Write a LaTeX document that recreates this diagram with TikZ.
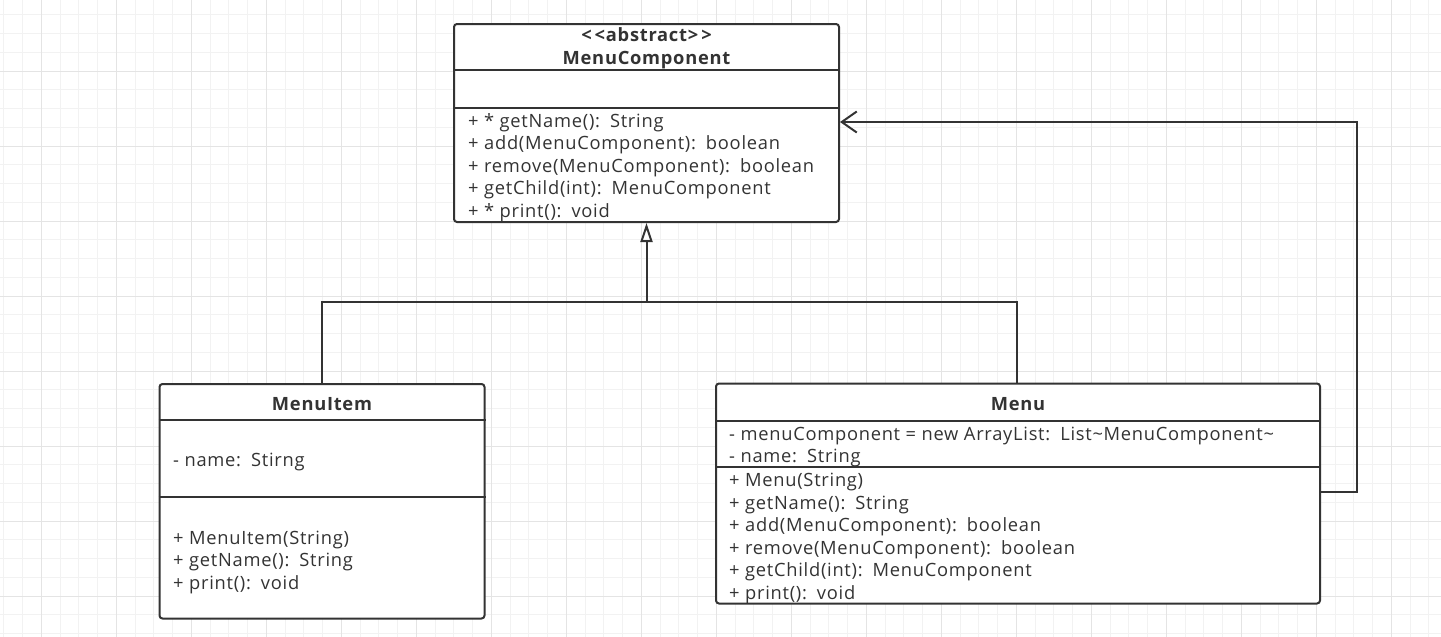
\documentclass[tikz,border=0pt]{standalone}
\usepackage{fontspec}
\setmainfont{Open Sans}[LetterSpace=4]
\usetikzlibrary{arrows.meta}
\definecolor{umlline}{HTML}{333333}
\definecolor{gridminor}{RGB}{242,242,242}
\definecolor{gridmajor}{RGB}{228,228,228}
\tikzset{
  classbox/.style={draw=umlline, line width=2pt, fill=white, rounded corners=3pt, inner sep=0pt},
  divider/.style={draw=umlline, line width=2pt},
  link/.style={draw=umlline, line width=2pt},
  member/.style={anchor=base west, inner sep=0pt, text=umlline, font=\fontsize{18.3}{20}\selectfont},
  classtitle/.style={anchor=base, inner sep=0pt, text=umlline, font=\fontsize{18.3}{20}\selectfont\bfseries},
}
\newcommand{\tcol}{:\hspace{10pt}}
\begin{document}
\begin{tikzpicture}[x=1pt,y=-1pt]
  \useasboundingbox (0,0) rectangle (1441,637);
  \fill[white] (0,0) rectangle (1441,637);
  % grid
  \foreach \i in {0,...,76}
    \draw[gridminor, line width=1pt] ({3.8+18.75*\i},0) -- ++(0,637);
  \foreach \j in {0,...,33}
    \draw[gridminor, line width=1pt] (0,{14.75+18.75*\j}) -- ++(1441,0);
  \foreach \i in {0,...,19}
    \draw[gridmajor, line width=1pt] ({41.3+75*\i},0) -- ++(0,637);
  \foreach \j in {0,...,8}
    \draw[gridmajor, line width=1pt] (0,{71+75*\j}) -- ++(1441,0);

  % MenuComponent
  \node[classbox, minimum width=385pt, minimum height=198pt] (comp) at (646.5,123) {};
  \draw[divider] (comp.west |- 0,70) -- (comp.east |- 0,70);
  \draw[divider] (comp.west |- 0,108) -- (comp.east |- 0,108);
  \node[classtitle] (compstereo) at (646.5,41.7) {{<}\,{<}abstract{>}\,{>}};
  \node[classtitle] (compname) at (646.5,64.3) {MenuComponent};
  \foreach \t [count=\i] in {{+ * getName()\tcol String}, {+ add(MenuComponent)\tcol boolean},
      {+ remove(MenuComponent)\tcol boolean}, {+ getChild(int)\tcol MenuComponent}, {+ * print()\tcol void}}
    \node[member] (compop\i) at (468,{127+22.5*(\i-1)}) {\t};

  % MenuItem
  \node[classbox, minimum width=325pt, minimum height=234.5pt] (item) at (322,501.25) {};
  \draw[divider] (item.west |- 0,420) -- (item.east |- 0,420);
  \draw[divider] (item.west |- 0,496.7) -- (item.east |- 0,496.7);
  \node[classtitle] (itemname) at (322,410) {MenuItem};
  \node[member] (itemattr) at (173,466) {- name\tcol Stirng};
  \foreach \t [count=\i] in {{+ MenuItem(String)}, {+ getName()\tcol String}, {+ print()\tcol void}}
    \node[member] (itemop\i) at (173,{544+22.5*(\i-1)}) {\t};

  % Menu
  \node[classbox, minimum width=604pt, minimum height=220pt] (menu) at (1018,493.5) {};
  \draw[divider] (menu.west |- 0,420.5) -- (menu.east |- 0,420.5);
  \draw[divider] (menu.west |- 0,467.3) -- (menu.east |- 0,467.3);
  \node[classtitle] (menuname) at (1018,410) {Menu};
  \node[member] (menuattr1) at (729,440) {- menuComponent = new ArrayList\tcol List\textasciitilde MenuComponent\textasciitilde};
  \node[member] (menuattr2) at (729,462.5) {- name\tcol String};
  \foreach \t [count=\i] in {{+ Menu(String)}, {+ getName()\tcol String}, {+ add(MenuComponent)\tcol boolean},
      {+ remove(MenuComponent)\tcol boolean}, {+ getChild(int)\tcol MenuComponent}, {+ print()\tcol void}}
    \node[member] (menuop\i) at (729,{486.5+22.5*(\i-1)}) {\t};

  % generalization
  \coordinate (joint) at (646.5,302.3);
  \draw[link] (item.north) |- (joint);
  \draw[link] ([xshift=-1pt]menu.north) |- (joint);
  \draw[link, -{Triangle[open, length=19pt, width=12pt]}] (joint) -- (comp.south);

  % association back to MenuComponent
  \coordinate (back) at (1357,122);
  \draw[link, -{Straight Barb[length=15pt, width=21pt]}] ([yshift=1.2pt]menu.east) -| (back) -- (back -| comp.east);
\end{tikzpicture}
\end{document}
